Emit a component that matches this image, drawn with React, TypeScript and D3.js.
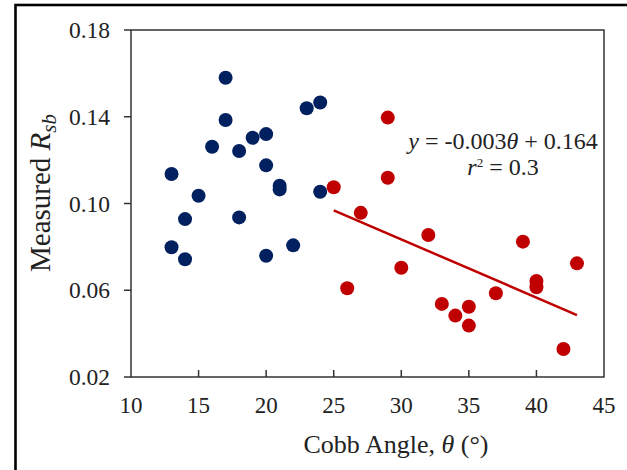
import * as d3 from 'd3';

const blueAngle = [17, 17, 16, 18, 19, 20, 23, 24, 13, 20, 21, 21, 24, 15, 14, 18, 13, 14, 20, 22];
const blueRsb = [0.158, 0.1385, 0.1262, 0.1242, 0.1303, 0.132, 0.1439, 0.1466, 0.1136, 0.1176, 0.1082, 0.1065, 0.1054, 0.1036, 0.0928, 0.0936, 0.0798, 0.0743, 0.0759, 0.0807];

const redAngle = [29, 29, 25, 27, 32, 39, 43, 30, 26, 40, 40, 37, 33, 35, 34, 35, 42];
const redRsb = [0.1396, 0.1119, 0.1075, 0.0957, 0.0855, 0.0824, 0.0724, 0.0704, 0.0609, 0.0643, 0.0614, 0.0586, 0.0537, 0.0524, 0.0483, 0.0437, 0.0329];

const xTicks = [10, 15, 20, 25, 30, 35, 40, 45];
const yTicks = [0.02, 0.06, 0.1, 0.14, 0.18];

const BLUE = '#002060';
const RED = '#C00000';
const FONT = '"Liberation Serif", "Times New Roman", serif';

// least squares line through the red group
function fit(xs: number[], ys: number[]) {
  const mx = d3.mean(xs) as number;
  const my = d3.mean(ys) as number;
  const sxy = d3.sum(xs, (v, i) => (v - mx) * (ys[i] - my));
  const sxx = d3.sum(xs, v => (v - mx) * (v - mx));
  const slope = sxy / sxx;
  return { slope, intercept: my - slope * mx };
}

export default function App() {
  const x = d3.scaleLinear().domain([10, 45]).range([131, 604]);
  const y = d3.scaleLinear().domain([0.02, 0.18]).range([377, 30]);
  const fmt = d3.format('.2f');

  const { slope, intercept } = fit(redAngle, redRsb);
  const [x0, x1] = d3.extent(redAngle) as [number, number];
  const line = d3.line<number>()
    .x(d => x(d))
    .y(d => y(slope * d + intercept));

  return (
    <svg width={627} height={470} style={{ position: 'absolute', left: 0, top: 0, background: '#fff' }} fontFamily={FONT}>
      {/* outer frame */}
      <rect x={15.5} y={5} width={700} height={600} fill="none" stroke="#000" strokeWidth={2.6} />

      {/* plot frame */}
      <rect x={x(10)} y={y(0.18)} width={x(45) - x(10)} height={y(0.02) - y(0.18)} fill="none" stroke="#333" strokeWidth={1.5} />

      {/* y axis */}
      {yTicks.map(t => (
        <g key={t}>
          <line x1={x(10) - 7} x2={x(10)} y1={y(t)} y2={y(t)} stroke="#333" strokeWidth={1.5} />
          <text x={110} y={y(t)} dy="0.35em" textAnchor="end" fontSize={23.5} fill="#222">{fmt(t)}</text>
        </g>
      ))}

      {/* x axis */}
      {xTicks.map(t => (
        <g key={t}>
          {t > 10 && t < 45 && (
            <line x1={x(t)} x2={x(t)} y1={y(0.02)} y2={y(0.02) - 7} stroke="#333" strokeWidth={1.5} />
          )}
          <text x={x(t)} y={413} textAnchor="middle" fontSize={23} fill="#222">{t}</text>
        </g>
      ))}

      <text x={396} y={453} textAnchor="middle" fontSize={26} fill="#222">
        Cobb Angle, <tspan fontStyle="italic">θ</tspan> (°)
      </text>

      <text transform="translate(50,193) rotate(-90)" textAnchor="middle" fontSize={29} fill="#222">
        Measured <tspan fontStyle="italic">R</tspan>
        <tspan fontStyle="italic" fontSize={21} dy={6}>sb</tspan>
      </text>

      {/* points */}
      {blueAngle.map((a, i) => (
        <circle key={'b' + i} cx={x(a)} cy={y(blueRsb[i])} r={7} fill={BLUE} />
      ))}
      {redAngle.map((a, i) => (
        <circle key={'r' + i} cx={x(a)} cy={y(redRsb[i])} r={7} fill={RED} />
      ))}

      {/* trend line */}
      <path d={line([x0, x1]) as string} fill="none" stroke={RED} strokeWidth={2.5} />

      <text x={503} y={149} textAnchor="middle" fontSize={24} fill="#222">
        <tspan fontStyle="italic">y</tspan> = -0.003<tspan fontStyle="italic">θ</tspan> + 0.164
      </text>
      <text x={503} y={175} textAnchor="middle" fontSize={24} fill="#222">
        <tspan fontStyle="italic">r</tspan>
        <tspan fontSize={13} dy={-8}>2</tspan>
        <tspan dy={8}> = 0.3</tspan>
      </text>
    </svg>
  );
}
